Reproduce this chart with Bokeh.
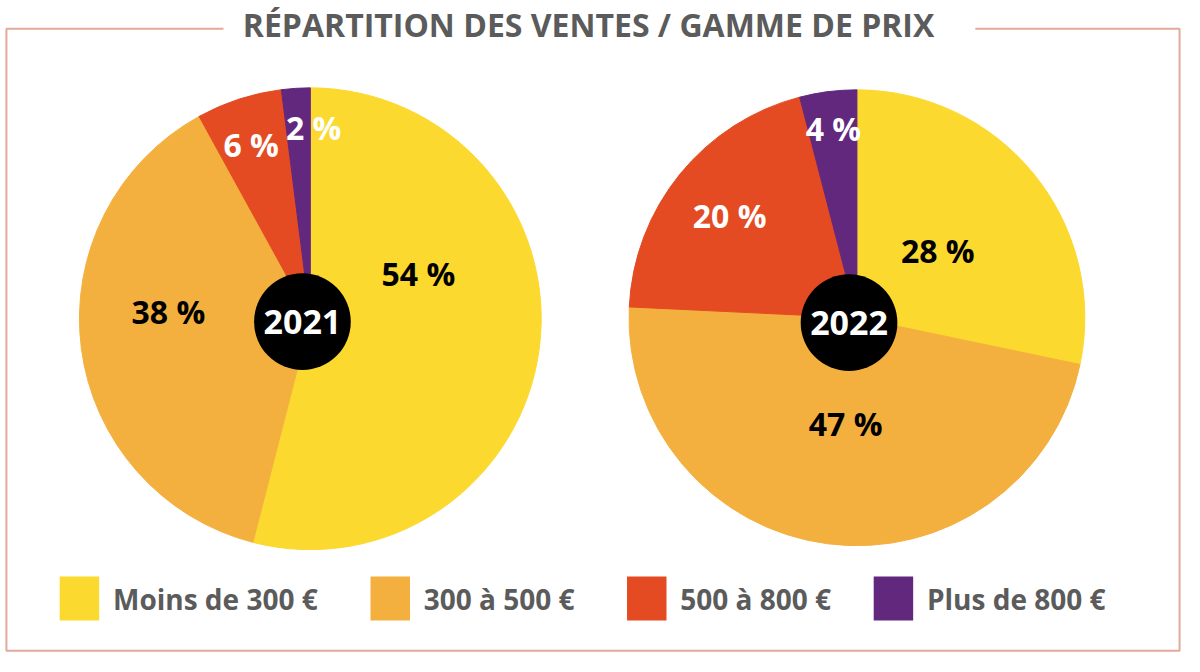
import numpy as np
from bokeh.plotting import figure
from bokeh.models import Range1d, ColumnDataSource
from bokeh.core.properties import value
from bokeh.embed import file_html
from bokeh.resources import INLINE

# ---- data ----
title = "RÉPARTITION DES VENTES / GAMME DE PRIX"
categories = ["Moins de 300 €", "300 à 500 €", "500 à 800 €", "Plus de 800 €"]
years = ["2021", "2022"]
share_2021 = [54, 38, 6, 2]
share_2022 = [28, 47, 20, 4]

# ---- styles ----
colors = ["#FCD92F", "#F4B03F", "#E44B22", "#62287E"]
label_colors = ["black", "black", "white", "white"]
border_color = "#E2AA9C"
gray = "#5B5B5B"
FONT = "Open Sans"

# layout in a 1200x672 canvas (x = px, y = 672 - px)
def Y(py):
    return 672 - py

pie_centers = [(314, Y(326)), (868, Y(325))]
pie_radius = [234, 231]
hole_centers = [(306, Y(329)), (860, Y(330))]
hole_radius = 49
# label placement: (radius, angle in degrees) per slice
label_polar = [
    [(119, 23), (144, 177), (188, 108.6), (196, 89)],
    [(107, 40), (109, -96), (166, 141), (195, 97)],
]

p = figure(width=1184, height=656, x_range=Range1d(0, 1200), y_range=Range1d(0, 672),
           output_backend="svg", toolbar_location=None, min_border=0)
p.axis.visible = False
p.grid.visible = False
p.outline_line_color = None
p.background_fill_color = "white"
p.border_fill_color = "white"

# border frame
p.multi_line(xs=[[226, 6, 6, 1195, 1195, 988]],
             ys=[[Y(29), Y(29), Y(666), Y(666), Y(29), Y(29)]],
             line_color=border_color, line_width=2)

p.text(x=[596], y=[Y(25)], text=[title], text_align="center", text_baseline="middle",
       text_font=value(FONT), text_font_style="bold", text_font_size="32px", text_color=gray)

for k, shares in enumerate([share_2021, share_2022]):
    cx, cy = pie_centers[k]
    vals = np.array(shares, dtype=float)
    frac = vals / vals.sum()
    cum = np.concatenate([[0], np.cumsum(frac)])
    start = np.pi / 2 - cum[1:] * 2 * np.pi
    end = np.pi / 2 - cum[:-1] * 2 * np.pi
    src = ColumnDataSource(dict(x=[cx] * len(vals), y=[cy] * len(vals), start=start, end=end,
                                color=colors))
    p.wedge(x="x", y="y", radius=pie_radius[k], start_angle="start", end_angle="end",
            fill_color="color", line_color="color", line_width=1, source=src)
    lx = [cx + r * np.cos(np.radians(a)) for r, a in label_polar[k]]
    ly = [cy + r * np.sin(np.radians(a)) for r, a in label_polar[k]]
    p.text(x=lx, y=ly, text=[f"{v} %" for v in shares], text_align="center",
           text_baseline="middle", text_font=value(FONT), text_font_style="bold",
           text_font_size="32px", text_color=label_colors)
    hx, hy = hole_centers[k]
    p.circle(x=[hx], y=[hy], radius=hole_radius, fill_color="black", line_color=None)
    p.text(x=[hx], y=[hy], text=[years[k]], text_align="center", text_baseline="middle",
           text_font=value(FONT), text_font_style="bold", text_font_size="34px",
           text_color="white")

# legend
leg_x = [60, 375, 635, 885]
for i, cat in enumerate(categories):
    p.quad(left=[leg_x[i]], right=[leg_x[i] + 40], bottom=[Y(635)], top=[Y(590)],
           fill_color=colors[i], line_color=None)
    p.text(x=[leg_x[i] + 54], y=[Y(613)], text=[cat], text_align="left", text_baseline="middle",
           text_font=value(FONT), text_font_style="bold", text_font_size="28px", text_color=gray)

open("out.html", "w").write(file_html(p, INLINE))
